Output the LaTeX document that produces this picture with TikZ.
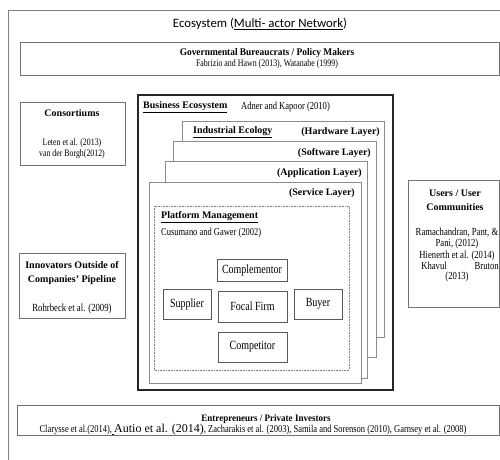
\documentclass[tikz,border=0pt]{standalone}
\usepackage{fontspec}
\setmainfont{Liberation Serif}
\newfontfamily\titlefont{Carlito}
% condensed cut of the serif for references and actor labels
\newfontfamily\narrow{Liberation Serif}[FakeStretch=0.8]
\newfontfamily\narrowhead{Liberation Serif}[FakeStretch=0.92]
\newcommand{\fs}[1]{\fontsize{#1}{#1}\selectfont}
\begin{document}
\begin{tikzpicture}[x=1pt,y=-1pt,
  frame/.style={draw=black!50, line width=0.7pt},
  panel/.style={draw=black!55, line width=0.7pt, fill=white},
  layer/.style={draw=black!45, line width=0.9pt, fill=white},
  ecobox/.style={draw=black!85, line width=1.1pt, fill=white},
  platform/.style={draw=black!50, line width=0.6pt, densely dotted},
  actor/.style={draw=black!65, line width=0.8pt, fill=white, inner sep=0pt,
    font=\narrow\fs{12.5}},
  head/.style={inner sep=0pt, font=\fs{10}\bfseries},
  cite/.style={inner sep=0pt, font=\narrow\fs{10.6}},
]
\useasboundingbox (0,0) rectangle (500,459);
\clip (0,0) rectangle (500,459);

% outer frame of the whole ecosystem
\draw[frame] (8,10) rectangle (512,472);
\node[inner sep=0pt, font=\titlefont\fs{12.8}] (title) at (260,24)
  {Ecosystem (\underline{Multi- actor Network})};

% governmental actors
\draw[panel] (20,42) rectangle (499,75);
\node[head, font=\narrowhead\fs{10.2}\bfseries] (gov) at (267,53) {Governmental Bureaucrats / Policy Makers};
\node[cite, font=\narrow\fs{9.9}] (govref) at (267,64) {Fabrizio and Hawn (2013), Watanabe (1999)};

% consortiums
\draw[panel] (20,102) rectangle (125,165);
\node[head] (cons) at (72,113) {Consortiums};
\node[cite, font=\narrow\fs{9.8}] (consref1) at (72,143) {Leten et al. (2013)};
\node[cite, font=\narrow\fs{9.8}] (consref2) at (72,154) {van der Borgh(2012)};

% innovators outside the pipeline
\draw[panel] (19,253) rectangle (125,318);
\node[head] (inno1) at (72,265) {Innovators Outside of};
\node[head] (inno2) at (72,280) {Companies’ Pipeline};
\node[cite, font=\narrow\fs{10.9}] (innoref) at (72,309) {Rohrbeck et al. (2009)};

% users and user communities
\draw[panel] (408,180) rectangle (499,307);
\node[head] (usr1) at (455,193) {Users / User};
\node[head] (usr2) at (455,207) {Communities};
\node[cite, font=\narrow\fs{10.8}] (usrref1) at (457,233) {Ramachandran, Pant, \&};
\node[cite, font=\narrow\fs{10.8}] (usrref2) at (457,244) {Pani, (2012)};
\node[cite, font=\narrow\fs{10.8}] (usrref3) at (457,256) {Hienerth et al. (2014)};
\node[cite, font=\narrow\fs{10.8}] (usrref4) at (460,266) {Khavul\hspace{28pt}Bruton};
\node[cite, font=\narrow\fs{10.8}] (usrref5) at (457,277) {(2013)};

% entrepreneurs and investors
\draw[panel] (17,405) rectangle (499,435);
\node[head, font=\narrowhead\fs{9.8}\bfseries] (entr) at (266,419) {Entrepreneurs / Private Investors};
\node[cite, font=\narrow\fs{10.6}] (entrref) at (253,430)
  {Clarysse et al.(2014),\underline{\ }{\rmfamily\fs{12}Autio et al. (2014)}, Zacharakis et al. (2003), Samila and Sorenson (2010), Garnsey et al. (2008)};

% business ecosystem with its stacked layers
\draw[ecobox] (138,95) rectangle (393,390);
\node[head, anchor=west] (be) at (143,107) {\underline{Business Ecosystem}};
\node[cite, anchor=west, font=\narrow\fs{10.7}] (beref) at (241,107) {Adner and Kapoor (2010)};

\draw[layer] (182,121) rectangle (384,337);
\node[head, anchor=west] (ie) at (193,132) {\underline{Industrial Ecology}};
\node[head, anchor=east] (hw) at (380,132) {(Hardware Layer)};

\draw[layer] (173,141) rectangle (376,357);
\node[head, anchor=east] (sw) at (371,153) {(Software Layer)};

\draw[layer] (165,161) rectangle (367,378);
\node[head, anchor=east] (app) at (362,173) {(Application Layer)};

\draw[layer] (149,182) rectangle (361,383);
\node[head, anchor=east] (srv) at (355,193) {(Service Layer)};

% platform management
\draw[platform] (154,206) rectangle (349,370);
\node[head, anchor=west] (pm) at (161,217) {\underline{Platform Management}};
\node[cite, anchor=west] (pmref) at (161,233) {Cusumano and Gawer (2002)};

\node[actor, minimum width=70pt, minimum height=22pt] (comp) at (252,270) {Complementor};
\node[actor, minimum width=48pt, minimum height=30pt] (sup) at (187,304) {Supplier};
\node[actor, minimum width=69pt, minimum height=31pt] (focal) at (252.5,306.5) {Focal Firm};
\node[actor, minimum width=48pt, minimum height=30pt] (buy) at (318,304) {Buyer};
\node[actor, minimum width=69pt, minimum height=30pt] (compet) at (252.5,347) {Competitor};
\end{tikzpicture}
\end{document}
